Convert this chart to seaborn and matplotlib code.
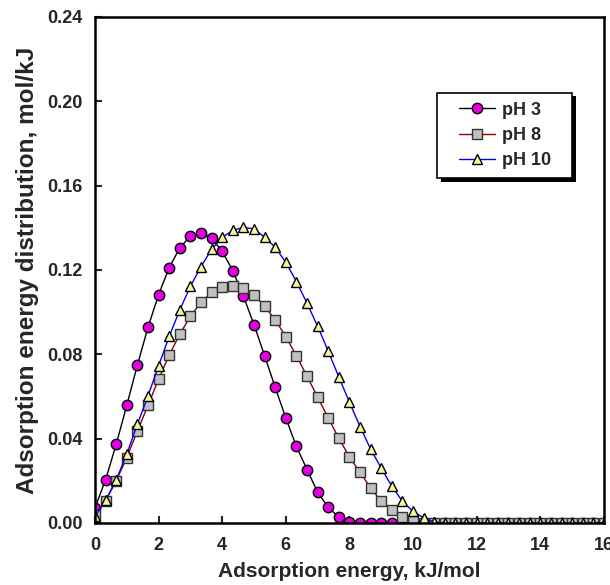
import numpy as np
import pandas as pd
import matplotlib
matplotlib.use("Agg")
import matplotlib.pyplot as plt
from matplotlib.patches import Rectangle
import seaborn as sns

# Energy grid (kJ/mol), step of 1/3
energy = [round(i / 3, 3) for i in range(49)]

ph3 = [0.0071, 0.0205, 0.0373, 0.0558, 0.0749, 0.0928, 0.1083, 0.1211, 0.1305, 0.1360,
       0.1376, 0.1350, 0.1288, 0.1197, 0.1075, 0.0941, 0.0793, 0.0643, 0.0498, 0.0363,
       0.0253, 0.0146, 0.0074, 0.0028, 0.0005] + [0.0] * 24
ph8 = [0.0040, 0.0105, 0.0200, 0.0310, 0.0436, 0.0558, 0.0682, 0.0796, 0.0896, 0.0980,
       0.1046, 0.1094, 0.1120, 0.1126, 0.1115, 0.1081, 0.1028, 0.0963, 0.0884, 0.0793,
       0.0696, 0.0597, 0.0498, 0.0402, 0.0313, 0.0240, 0.0166, 0.0103, 0.0060, 0.0028,
       0.0008] + [0.0] * 18
ph10 = [0.0031, 0.0107, 0.0205, 0.0327, 0.0468, 0.0603, 0.0745, 0.0885, 0.1011, 0.1122,
        0.1216, 0.1298, 0.1355, 0.1388, 0.1402, 0.1395, 0.1355, 0.1308, 0.1236, 0.1145,
        0.1042, 0.0933, 0.0815, 0.0692, 0.0573, 0.0457, 0.0350, 0.0260, 0.0174, 0.0103,
        0.0055, 0.0024, 0.0004] + [0.0] * 16

labels = ["pH 3", "pH 8", "pH 10"]
x_ticks = [0, 2, 4, 6, 8, 10, 12, 14, 16]
y_ticks = [0.00, 0.04, 0.08, 0.12, 0.16, 0.20, 0.24]

sns.set_style("ticks")
plt.rcParams["font.family"] = ["Liberation Sans", "DejaVu Sans"]
plt.rcParams["font.weight"] = "bold"

fig = plt.figure(figsize=(6.1, 5.85), dpi=100)
ax = fig.add_axes([0.1557, 0.106, 0.8343, 0.865])

styles = [
    dict(color="black", marker="o", markerfacecolor="#e000e0", markeredgecolor="black",
         markersize=7.5, markeredgewidth=1.0),
    dict(color="#8b0000", marker="s", markerfacecolor="#c0c0c0", markeredgecolor="#333333",
         markersize=6.5, markeredgewidth=1.0),
    dict(color="#0000ff", marker="^", markerfacecolor="#f8f4a0", markeredgecolor="black",
         markersize=7.5, markeredgewidth=1.0),
]

for vals, lab, st in zip([ph3, ph8, ph10], labels, styles):
    df = pd.DataFrame({"energy": energy, "value": vals})
    sns.lineplot(data=df, x="energy", y="value", ax=ax, label=lab, linewidth=1.0,
                 **st)

ax.set_xlim(0, 16)
ax.set_ylim(0, 0.24)
ax.set_xticks(x_ticks)
ax.set_xticklabels([str(t) for t in x_ticks])
ax.set_yticks(y_ticks)
ax.set_yticklabels([f"{t:.2f}" for t in y_ticks])
ax.tick_params(direction="in", length=5, width=1.5, labelsize=13)
ax.tick_params(axis="x", pad=10)
ax.tick_params(axis="y", pad=9)
for lbl in ax.get_xticklabels() + ax.get_yticklabels():
    lbl.set_fontweight("bold")
for sp in ax.spines.values():
    sp.set_visible(True)
    sp.set_linewidth(1.8)
    sp.set_color("black")

ax.set_xlabel("Adsorption energy, kJ/mol", fontsize=15, fontweight="bold", labelpad=6)
ax.set_ylabel("Adsorption energy distribution, mol/kJ", fontsize=17.5, fontweight="bold",
              labelpad=6)

# legend box with solid black shadow (axes coordinates)
bx0, by0, bx1, by1 = 0.673, 0.6814, 0.938, 0.8505
ax.add_patch(Rectangle((bx0 + 0.007, by0 - 0.007), bx1 - bx0, by1 - by0,
                       transform=ax.transAxes, facecolor="black", edgecolor="none",
                       zorder=9, clip_on=False))
ax.add_patch(Rectangle((bx0, by0), bx1 - bx0, by1 - by0, transform=ax.transAxes,
                       facecolor="white", edgecolor="black", linewidth=1.2,
                       zorder=10, clip_on=False))
leg = ax.legend(loc="center", bbox_to_anchor=((bx0 + bx1) / 2, (by0 + by1) / 2),
                frameon=False, handlelength=2.0, borderpad=0.2, labelspacing=0.45,
                handletextpad=0.35, prop={"weight": "bold", "size": 13})
leg.set_zorder(11)

fig.savefig("out.png", dpi=100)
